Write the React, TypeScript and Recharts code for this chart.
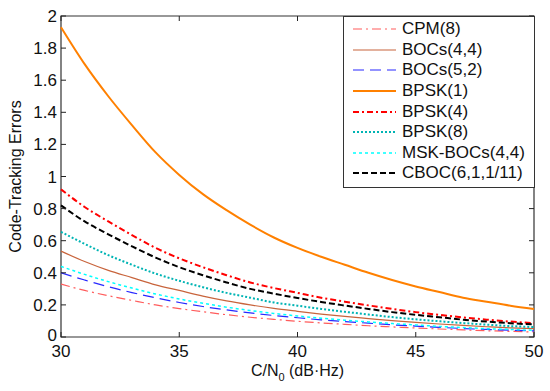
import { LineChart, Line, XAxis, YAxis, ReferenceArea, Legend } from "recharts";

// C/N0 in dB-Hz
const cn0 = [30, 31, 32, 33, 34, 35, 36, 37, 38, 39, 40, 41, 42, 43, 44, 45, 46, 47, 48, 49, 50];

const cpm8 = [0.33, 0.29, 0.257, 0.228, 0.2, 0.177, 0.157, 0.139, 0.123, 0.11, 0.098, 0.088, 0.079, 0.07, 0.063, 0.056, 0.05, 0.044, 0.039, 0.035, 0.031];
const bocs44 = [0.535, 0.47, 0.415, 0.37, 0.325, 0.29, 0.255, 0.225, 0.2, 0.178, 0.16, 0.143, 0.128, 0.115, 0.102, 0.091, 0.081, 0.072, 0.064, 0.057, 0.052];
const bocs52 = [0.4, 0.355, 0.313, 0.277, 0.244, 0.215, 0.19, 0.169, 0.15, 0.134, 0.12, 0.107, 0.096, 0.086, 0.076, 0.068, 0.06, 0.053, 0.047, 0.042, 0.038];
const bpsk1 = [1.93, 1.7, 1.5, 1.32, 1.15, 1.01, 0.89, 0.79, 0.7, 0.62, 0.555, 0.5, 0.45, 0.4, 0.355, 0.315, 0.28, 0.245, 0.22, 0.195, 0.174];
const bpsk4 = [0.92, 0.81, 0.72, 0.635, 0.555, 0.49, 0.435, 0.385, 0.34, 0.305, 0.275, 0.245, 0.22, 0.197, 0.175, 0.155, 0.138, 0.122, 0.108, 0.096, 0.086];
const bpsk8 = [0.655, 0.58, 0.51, 0.45, 0.395, 0.35, 0.31, 0.275, 0.245, 0.215, 0.195, 0.175, 0.157, 0.14, 0.124, 0.11, 0.098, 0.087, 0.077, 0.068, 0.062];
const mskBocs44 = [0.44, 0.39, 0.345, 0.305, 0.268, 0.237, 0.21, 0.186, 0.165, 0.147, 0.131, 0.117, 0.105, 0.094, 0.084, 0.075, 0.066, 0.059, 0.052, 0.047, 0.042];
const cboc = [0.82, 0.72, 0.64, 0.565, 0.495, 0.435, 0.385, 0.34, 0.3, 0.27, 0.243, 0.218, 0.196, 0.175, 0.155, 0.138, 0.123, 0.108, 0.096, 0.086, 0.078];

const xTicks = [30, 35, 40, 45, 50];
const yTicks = [0, 0.2, 0.4, 0.6, 0.8, 1, 1.2, 1.4, 1.6, 1.8, 2];

const series = [
  { key: "cpm8", name: "CPM(8)", values: cpm8, color: "#ff5c5c", width: 1.2, dash: "9 4 2 4" },
  { key: "bocs44", name: "BOCs(4,4)", values: bocs44, color: "#c8643c", width: 1.2, dash: undefined },
  { key: "bocs52", name: "BOCs(5,2)", values: bocs52, color: "#2828ff", width: 1.2, dash: "11 6" },
  { key: "bpsk1", name: "BPSK(1)", values: bpsk1, color: "#ff8000", width: 2, dash: undefined },
  { key: "bpsk4", name: "BPSK(4)", values: bpsk4, color: "#ff0000", width: 2, dash: "6 3 2 3" },
  { key: "bpsk8", name: "BPSK(8)", values: bpsk8, color: "#00b4b4", width: 2, dash: "2 2" },
  { key: "msk", name: "MSK-BOCs(4,4)", values: mskBocs44, color: "#00ffff", width: 1.5, dash: "3 3" },
  { key: "cboc", name: "CBOC(6,1,1/11)", values: cboc, color: "#000000", width: 2, dash: "6 3" },
];

const data = cn0.map((x, i) => {
  const row: Record<string, number> = { x };
  series.forEach((s) => (row[s.key] = s.values[i]));
  return row;
});

const W = 550;
const H = 391;
const TOP = 16;
const BOTTOM = 337;
const LEFT = 61;
const RIGHT = 534;
const FONT = "'Liberation Sans', Arial, sans-serif";

function XTick(props: any) {
  const { x, y, payload } = props;
  return (
    <g>
      <line x1={x} x2={x} y1={BOTTOM} y2={BOTTOM - 5} stroke="#222" />
      <line x1={x} x2={x} y1={TOP} y2={TOP + 5} stroke="#222" />
      <text x={x} y={y + 20} textAnchor="middle" fontSize={17} fontFamily={FONT} fill="#111">
        {payload.value}
      </text>
    </g>
  );
}

function YTick(props: any) {
  const { x, y, payload } = props;
  // the "0" label sits a little higher so it clears the "30" below it
  const dy = payload.value === 0 ? 4 : 6;
  return (
    <g>
      <line x1={LEFT} x2={LEFT + 5} y1={y} y2={y} stroke="#222" />
      <line x1={RIGHT} x2={RIGHT - 5} y1={y} y2={y} stroke="#222" />
      <text x={x - 4} y={y + dy} textAnchor="end" fontSize={17} fontFamily={FONT} fill="#111">
        {payload.value}
      </text>
    </g>
  );
}

function LegendBox() {
  return (
    <div
      style={{
        border: "1px solid #333",
        background: "#fff",
        width: 190,
        height: 168,
        boxSizing: "content-box",
        paddingTop: 2,
        fontFamily: FONT,
        fontSize: 17,
        color: "#111",
      }}
    >
      {series.map((s) => (
        <div key={s.key} style={{ display: "flex", alignItems: "center", height: 20.6 }}>
          <svg width={56} height={20} style={{ flex: "none" }}>
            <line x1={9} x2={52} y1={10} y2={10} stroke={s.color} strokeWidth={s.width} strokeDasharray={s.dash} />
          </svg>
          <span style={{ marginLeft: 2, whiteSpace: "nowrap" }}>{s.name}</span>
        </div>
      ))}
    </div>
  );
}

function XLabel(props: any) {
  const vb = props.viewBox || {};
  const cx = vb.x + vb.width / 2;
  return (
    <text x={cx} y={BOTTOM + 39} textAnchor="middle" fontSize={16} fontFamily={FONT} fill="#111">
      C/N
      <tspan fontSize={11} dy={5}>0</tspan>
      <tspan dy={-5}> (dB·Hz)</tspan>
    </text>
  );
}

function YLabel() {
  const cy = (TOP + BOTTOM) / 2;
  return (
    <text
      x={15}
      y={cy}
      transform={`rotate(-90, 15, ${cy})`}
      textAnchor="middle"
      dominantBaseline="central"
      fontSize={16}
      fontFamily={FONT}
      fill="#111"
    >
      Code-Tracking Errors
    </text>
  );
}

export default function App() {
  return (
    <div style={{ position: "absolute", left: 0, top: 0, width: W, height: H, background: "#fff" }}>
      <LineChart width={W} height={H} data={data} margin={{ top: TOP, right: W - RIGHT, bottom: 0, left: 0 }}>
        <XAxis
          dataKey="x"
          type="number"
          domain={[30, 50]}
          ticks={xTicks}
          height={H - BOTTOM}
          tickSize={0}
          tickMargin={0}
          tickLine={false}
          axisLine={false}
          tick={<XTick />}
          label={{ content: (p: any) => <XLabel {...p} /> }}
        />
        <YAxis
          type="number"
          domain={[0, 2]}
          ticks={yTicks}
          width={LEFT}
          tickSize={0}
          tickMargin={0}
          tickLine={false}
          axisLine={false}
          tick={<YTick />}
          label={{ content: () => <YLabel /> }}
        />
        <ReferenceArea x1={30} x2={50} y1={0} y2={2} fill="none" stroke="#333" strokeWidth={1.2} />
        {series.map((s) => (
          <Line
            key={s.key}
            dataKey={s.key}
            name={s.name}
            type="monotone"
            stroke={s.color}
            strokeWidth={s.width}
            strokeDasharray={s.dash}
            dot={false}
            isAnimationActive={false}
          />
        ))}
        <Legend
          layout="vertical"
          align="center"
          verticalAlign="middle"
          content={() => <LegendBox />}
          wrapperStyle={{ top: TOP, left: 343, width: 192, height: 171 }}
        />
      </LineChart>
    </div>
  );
}
